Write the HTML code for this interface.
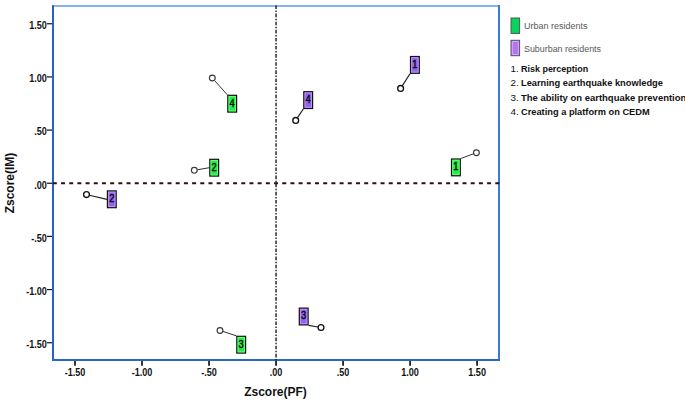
<!DOCTYPE html><html><head><meta charset="utf-8"><style>
html,body{margin:0;padding:0;background:#fff;width:685px;height:401px;overflow:hidden}
svg{display:block}
text{font-family:"Liberation Sans",sans-serif}
</style></head><body>
<svg width="685" height="401" viewBox="0 0 685 401">
<line x1="52" y1="6" x2="500" y2="6" stroke="#5b9be0" stroke-width="1.7"/>
<line x1="53" y1="5.2" x2="53" y2="361" stroke="#2563c4" stroke-width="2"/>
<line x1="499" y1="5" x2="499" y2="361" stroke="#3a7bd2" stroke-width="2"/>
<line x1="52" y1="360" x2="500" y2="360" stroke="#2667c8" stroke-width="2"/>
<line x1="52.8" y1="183.25" x2="500" y2="183.25" stroke="#2e1010" stroke-width="2" stroke-dasharray="4.0 4.194"/>
<line x1="276.05" y1="5.5" x2="276.05" y2="361" stroke="#1c1c1c" stroke-width="1.4" stroke-dasharray="3.6 1.5 1.5 1.5"/>
<line x1="47" y1="23.75" x2="52" y2="23.75" stroke="#111" stroke-width="1.2"/>
<text transform="translate(46.9,29.05) scale(0.9,1)" font-size="10.1" font-weight="bold" text-anchor="end" fill="#111">1.50</text>
<line x1="47" y1="76.92" x2="52" y2="76.92" stroke="#111" stroke-width="1.2"/>
<text transform="translate(46.9,82.22) scale(0.9,1)" font-size="10.1" font-weight="bold" text-anchor="end" fill="#111">1.00</text>
<line x1="47" y1="130.09" x2="52" y2="130.09" stroke="#111" stroke-width="1.2"/>
<text transform="translate(46.9,135.39) scale(0.9,1)" font-size="10.1" font-weight="bold" text-anchor="end" fill="#111">.50</text>
<line x1="47" y1="183.25" x2="52" y2="183.25" stroke="#111" stroke-width="1.2"/>
<text transform="translate(46.9,188.55) scale(0.9,1)" font-size="10.1" font-weight="bold" text-anchor="end" fill="#111">.00</text>
<line x1="47" y1="236.41" x2="52" y2="236.41" stroke="#111" stroke-width="1.2"/>
<text transform="translate(46.9,241.72) scale(0.9,1)" font-size="10.1" font-weight="bold" text-anchor="end" fill="#111">-.50</text>
<line x1="47" y1="289.58" x2="52" y2="289.58" stroke="#111" stroke-width="1.2"/>
<text transform="translate(46.9,294.88) scale(0.9,1)" font-size="10.1" font-weight="bold" text-anchor="end" fill="#111">-1.00</text>
<line x1="47" y1="342.75" x2="52" y2="342.75" stroke="#111" stroke-width="1.2"/>
<text transform="translate(46.9,348.05) scale(0.9,1)" font-size="10.1" font-weight="bold" text-anchor="end" fill="#111">-1.50</text>
<line x1="75.00" y1="361" x2="75.00" y2="365.8" stroke="#111" stroke-width="1.7"/>
<text transform="translate(75.00,375.8) scale(0.9,1)" font-size="10.1" font-weight="bold" text-anchor="middle" fill="#111">-1.50</text>
<line x1="142.02" y1="361" x2="142.02" y2="365.8" stroke="#111" stroke-width="1.7"/>
<text transform="translate(142.02,375.8) scale(0.9,1)" font-size="10.1" font-weight="bold" text-anchor="middle" fill="#111">-1.00</text>
<line x1="209.04" y1="361" x2="209.04" y2="365.8" stroke="#111" stroke-width="1.7"/>
<text transform="translate(209.04,375.8) scale(0.9,1)" font-size="10.1" font-weight="bold" text-anchor="middle" fill="#111">-.50</text>
<line x1="276.05" y1="361" x2="276.05" y2="365.8" stroke="#111" stroke-width="1.7"/>
<text transform="translate(276.05,375.8) scale(0.9,1)" font-size="10.1" font-weight="bold" text-anchor="middle" fill="#111">.00</text>
<line x1="343.06" y1="361" x2="343.06" y2="365.8" stroke="#111" stroke-width="1.7"/>
<text transform="translate(343.06,375.8) scale(0.9,1)" font-size="10.1" font-weight="bold" text-anchor="middle" fill="#111">.50</text>
<line x1="410.08" y1="361" x2="410.08" y2="365.8" stroke="#111" stroke-width="1.7"/>
<text transform="translate(410.08,375.8) scale(0.9,1)" font-size="10.1" font-weight="bold" text-anchor="middle" fill="#111">1.00</text>
<line x1="477.10" y1="361" x2="477.10" y2="365.8" stroke="#111" stroke-width="1.7"/>
<text transform="translate(477.10,375.8) scale(0.9,1)" font-size="10.1" font-weight="bold" text-anchor="middle" fill="#111">1.50</text>
<text x="275.5" y="396" font-size="12" font-weight="bold" text-anchor="middle" fill="#111">Zscore(PF)</text>
<text transform="translate(14,183) rotate(-90)" x="0" y="0" font-size="12" font-weight="bold" text-anchor="middle" fill="#111">Zscore(IM)</text>
<line x1="402.22" y1="85.88" x2="410.00" y2="73.80" stroke="#222" stroke-width="1.2"/>
<circle cx="400.60" cy="88.40" r="2.9" fill="#fff" stroke="#111" stroke-width="1.35"/>
<rect x="410.50" y="56.50" width="8.80" height="16.80" fill="#9463ec" stroke="#111" stroke-width="1.2"/>
<rect x="411.70" y="57.70" width="6.40" height="14.40" fill="none" stroke="#c4a2f8" stroke-width="0.8"/>
<text transform="translate(414.90,67.80) scale(0.88,1)" font-size="10.6" text-anchor="middle" fill="#000" stroke="#000" stroke-width="0.35">1</text>
<line x1="473.59" y1="153.79" x2="460.80" y2="158.50" stroke="#333" stroke-width="1.0"/>
<circle cx="476.40" cy="152.75" r="2.9" fill="#fff" stroke="#3a3a3a" stroke-width="1.15"/>
<rect x="451.50" y="159.00" width="8.80" height="16.80" fill="#25ec45" stroke="#111" stroke-width="1.2"/>
<rect x="452.70" y="160.20" width="6.40" height="14.40" fill="none" stroke="#70ff85" stroke-width="0.8"/>
<text transform="translate(455.90,170.30) scale(0.88,1)" font-size="10.6" text-anchor="middle" fill="#000" stroke="#000" stroke-width="0.35">1</text>
<line x1="214.30" y1="80.24" x2="227.30" y2="94.80" stroke="#333" stroke-width="1.0"/>
<circle cx="212.30" cy="78.00" r="2.9" fill="#fff" stroke="#3a3a3a" stroke-width="1.15"/>
<rect x="227.80" y="95.30" width="8.80" height="16.80" fill="#25ec45" stroke="#111" stroke-width="1.2"/>
<rect x="229.00" y="96.50" width="6.40" height="14.40" fill="none" stroke="#70ff85" stroke-width="0.8"/>
<text transform="translate(232.20,106.60) scale(0.88,1)" font-size="10.6" text-anchor="middle" fill="#000" stroke="#000" stroke-width="0.35">4</text>
<line x1="297.36" y1="117.90" x2="303.30" y2="109.00" stroke="#222" stroke-width="1.2"/>
<circle cx="295.70" cy="120.40" r="2.9" fill="#fff" stroke="#111" stroke-width="1.35"/>
<rect x="303.80" y="91.70" width="8.80" height="16.80" fill="#9463ec" stroke="#111" stroke-width="1.2"/>
<rect x="305.00" y="92.90" width="6.40" height="14.40" fill="none" stroke="#c4a2f8" stroke-width="0.8"/>
<text transform="translate(308.20,103.00) scale(0.88,1)" font-size="10.6" text-anchor="middle" fill="#000" stroke="#000" stroke-width="0.35">4</text>
<line x1="197.26" y1="169.79" x2="209.30" y2="167.70" stroke="#333" stroke-width="1.0"/>
<circle cx="194.30" cy="170.30" r="2.9" fill="#fff" stroke="#3a3a3a" stroke-width="1.15"/>
<rect x="209.80" y="159.30" width="8.80" height="16.80" fill="#25ec45" stroke="#111" stroke-width="1.2"/>
<rect x="211.00" y="160.50" width="6.40" height="14.40" fill="none" stroke="#70ff85" stroke-width="0.8"/>
<text transform="translate(214.20,170.60) scale(0.88,1)" font-size="10.6" text-anchor="middle" fill="#000" stroke="#000" stroke-width="0.35">2</text>
<line x1="89.42" y1="195.23" x2="106.90" y2="199.30" stroke="#222" stroke-width="1.2"/>
<circle cx="86.50" cy="194.55" r="2.9" fill="#fff" stroke="#111" stroke-width="1.35"/>
<rect x="107.40" y="190.90" width="8.80" height="16.80" fill="#9463ec" stroke="#111" stroke-width="1.2"/>
<rect x="108.60" y="192.10" width="6.40" height="14.40" fill="none" stroke="#c4a2f8" stroke-width="0.8"/>
<text transform="translate(111.80,202.20) scale(0.88,1)" font-size="10.6" text-anchor="middle" fill="#000" stroke="#000" stroke-width="0.35">2</text>
<line x1="222.85" y1="331.43" x2="236.30" y2="335.80" stroke="#333" stroke-width="1.0"/>
<circle cx="220.00" cy="330.50" r="2.9" fill="#fff" stroke="#3a3a3a" stroke-width="1.15"/>
<rect x="236.80" y="336.30" width="8.80" height="16.80" fill="#25ec45" stroke="#111" stroke-width="1.2"/>
<rect x="238.00" y="337.50" width="6.40" height="14.40" fill="none" stroke="#70ff85" stroke-width="0.8"/>
<text transform="translate(241.20,347.60) scale(0.88,1)" font-size="10.6" text-anchor="middle" fill="#000" stroke="#000" stroke-width="0.35">3</text>
<line x1="318.04" y1="327.00" x2="308.60" y2="325.40" stroke="#222" stroke-width="1.2"/>
<circle cx="321.00" cy="327.50" r="2.9" fill="#fff" stroke="#111" stroke-width="1.35"/>
<rect x="299.30" y="308.10" width="8.80" height="16.80" fill="#9463ec" stroke="#111" stroke-width="1.2"/>
<rect x="300.50" y="309.30" width="6.40" height="14.40" fill="none" stroke="#c4a2f8" stroke-width="0.8"/>
<text transform="translate(303.70,319.40) scale(0.88,1)" font-size="10.6" text-anchor="middle" fill="#000" stroke="#000" stroke-width="0.35">3</text>
<rect x="511" y="18" width="8.6" height="15.4" fill="#0cd25e" stroke="#4a5a50" stroke-width="1"/>
<rect x="511" y="40.3" width="8.6" height="15.4" fill="#b374ee" stroke="#5a5060" stroke-width="1"/>
<rect x="512.3" y="41.6" width="6" height="12.8" fill="none" stroke="#d9b8fb" stroke-width="0.8"/>
<text x="524" y="29.3" font-size="9.6" fill="#595959" textLength="63.5" lengthAdjust="spacingAndGlyphs">Urban residents</text>
<text x="524" y="52.3" font-size="9.6" fill="#595959" textLength="77" lengthAdjust="spacingAndGlyphs">Suburban residents</text>
<text x="510.6" y="71.5" font-size="9.9" fill="#111">1.</text>
<text x="521" y="71.5" font-size="9.6" font-weight="bold" fill="#111" textLength="67.2" lengthAdjust="spacingAndGlyphs">Risk perception</text>
<text x="510.6" y="85.9" font-size="9.9" fill="#111">2.</text>
<text x="521" y="85.9" font-size="9.6" font-weight="bold" fill="#111" textLength="141.9" lengthAdjust="spacingAndGlyphs">Learning earthquake knowledge</text>
<text x="510.6" y="100.9" font-size="9.9" fill="#111">3.</text>
<text x="521" y="100.9" font-size="9.6" font-weight="bold" fill="#111" textLength="165.3" lengthAdjust="spacingAndGlyphs">The ability on earthquake prevention</text>
<text x="510.6" y="115.3" font-size="9.9" fill="#111">4.</text>
<text x="521" y="115.3" font-size="9.6" font-weight="bold" fill="#111" textLength="128.7" lengthAdjust="spacingAndGlyphs">Creating a platform on CEDM</text>
</svg></body></html>
